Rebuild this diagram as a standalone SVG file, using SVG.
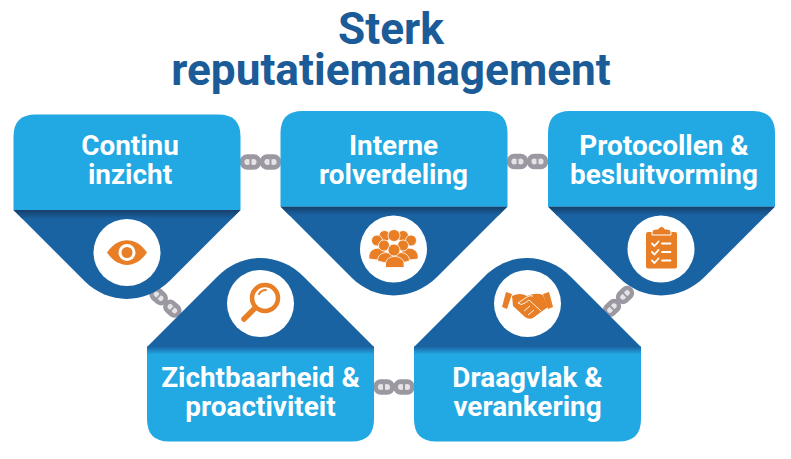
<svg xmlns="http://www.w3.org/2000/svg" width="791" height="459" viewBox="0 0 791 459">
<style>
text{font-family:Roboto,"Liberation Sans",sans-serif;font-weight:700;text-anchor:middle}
.title{fill:#1a5b98;font-size:44.200px}
.label{fill:#fff;font-size:27.900px}
.card{fill:#22a8e2}
.tip{fill:#1a63a3}
.disc{fill:#fff}
.ico{fill:#e87f27}
.link{fill:#e4e3e6;stroke:#9b98a2;stroke-width:4.800}
.stud{fill:#9b98a2}
</style>
<defs>
<linearGradient id="shD" x1="0" y1="0" x2="0" y2="1"><stop offset="0" stop-color="#163f68"/><stop offset="1" stop-color="#1a63a3"/></linearGradient>
<linearGradient id="shU" x1="0" y1="0" x2="0" y2="1"><stop offset="0" stop-color="#1a63a3"/><stop offset="1" stop-color="#22a8e2"/></linearGradient>
<g id="chain">
<rect class="link" x="-18.500" y="-5.300" width="17" height="10.600" rx="5.300"/>
<rect class="link" x="1.500" y="-5.300" width="17" height="10.600" rx="5.300"/>
<path class="stud" d="M-12.500-4H-7.500V-2.800H-9V2.800H-7.500V4H-12.500V2.800H-11V-2.800H-12.500ZM7.500-4H12.500V-2.800H11V2.800H12.500V4H7.500V2.800H9V-2.800H7.500Z"/>
</g>
<g id="down">
<path class="tip" d="M0 95.500H227L157 165.500C132 190.500 95 190.500 71 166.500Z"/>
<path d="M0 95.500H227L218 104.500H9Z" fill="url(#shD)"/>
<path class="card" d="M0 95.500V22Q0 0 22 0H205Q227 0 227 22V95.500Z"/>
</g>
<g id="up">
<path class="tip" d="M0 89H227L157 19C132 -6 95 -6 71 18Z"/>
<path class="card" d="M0 89V161Q0 183.500 22 183.500H205Q227 183.500 227 161V89Z"/>
<rect x="0" y="88.500" width="227" height="8" fill="url(#shU)"/>
</g>
</defs>

<text class="title" x="391" y="44">Sterk</text>
<text class="title" x="391" y="85">reputatiemanagement</text>

<g id="connectors">
<use href="#chain" transform="translate(260.500 162)"/>
<use href="#chain" transform="translate(527.500 161.500)"/>
<use href="#chain" transform="translate(394 387)"/>
<use href="#chain" transform="translate(165.500 302.500) rotate(42) scale(.92)"/>
<use href="#chain" transform="translate(618.500 301.500) rotate(-45) scale(.92)"/>
</g>

<g id="node-continu">
<use href="#down" transform="translate(13.500 114.500)"/>
<circle class="disc" cx="127" cy="252.500" r="33.500"/>
<path class="ico" d="M107 252.500C118 236 136 236 147 252.500C136 269 118 269 107 252.500Z"/>
<circle cx="127" cy="252.500" r="8.500" fill="#fff"/>
<circle class="ico" cx="127" cy="252.500" r="5.500"/>
<text class="label" x="130" y="155">Continu</text>
<text class="label" x="130" y="184">inzicht</text>
</g>

<g id="node-rolverdeling">
<use href="#down" transform="translate(280.500 111)"/>
<circle class="disc" cx="393.500" cy="249" r="33.500"/>
<g class="ico" stroke="#fff" stroke-width=".8">
<circle cx="384.500" cy="236" r="5.500"/><circle cx="403" cy="236" r="5.500"/>
<circle cx="394" cy="235.500" r="6"/>
<circle cx="377" cy="240.500" r="5.500"/><circle cx="411" cy="240.500" r="5.500"/>
<path d="M369 259C367 245 387 245 387 257V258L378 260Z"/>
<path d="M400 257C400 245 420 245 418 259L409 260Z"/>
<circle cx="384" cy="245.500" r="5.500"/><circle cx="403" cy="245.500" r="5.500"/>
<path d="M377.500 261C377.500 250 394 250 394 260V262L386 263Z"/>
<path d="M393 260C393 250 409.500 250 409.500 261L401 263Z"/>
<circle cx="394" cy="250" r="6"/>
<path d="M385.500 264C385.500 254 404 254 404 264V267.500H385.500Z"/>
</g>
<text class="label" x="393.500" y="154.500">Interne</text>
<text class="label" x="393.500" y="183.500">rolverdeling</text>
</g>

<g id="node-protocollen">
<use href="#down" transform="translate(548 111)"/>
<circle class="disc" cx="661" cy="249" r="33.500"/>
<rect class="ico" x="646" y="232" width="31" height="36.500" rx="2"/>
<path class="ico" d="M652 232Q652 229 656 229H658Q659 226.500 661.500 226.500Q664 226.500 665 229H667Q671 229 671 232V235H652Z" stroke="#fff" stroke-width="1"/>
<path d="M652 243.500L654.500 246L658.500 241.500M652 252L654.500 254.500L658.500 250M652 260.500L654.500 263L658.500 258.500M662 243.500H670.500M662 252H670.500M662 260.500H670.500" fill="none" stroke="#fff" stroke-width="1.800" stroke-linecap="round" stroke-linejoin="round"/>
<text class="label" x="664" y="154.500">Protocollen &amp;</text>
<text class="label" x="664" y="183.500">besluitvorming</text>
</g>

<g id="node-zichtbaarheid">
<use href="#up" transform="translate(147 258)"/>
<circle class="disc" cx="260.500" cy="303.500" r="33.500"/>
<path d="M254 309L244 319" fill="none" stroke="#e87f27" stroke-width="5.500" stroke-linecap="round"/>
<circle cx="265" cy="298" r="13" fill="#fff" stroke="#e87f27" stroke-width="4.500"/>
<path d="M259 294Q261 290 266 290" fill="none" stroke="#e87f27" stroke-width="2" stroke-linecap="round"/>
<text class="label" x="260.500" y="387">Zichtbaarheid &amp;</text>
<text class="label" x="260.500" y="416">proactiviteit</text>
</g>

<g id="node-draagvlak">
<use href="#up" transform="translate(414 258)"/>
<circle class="disc" cx="527.500" cy="303.500" r="33.500"/>
<path class="ico" d="M506 292L512 294L507 309L502 307ZM549 292L543 294L548 309L553 307Z"/>
<path class="ico" d="M512 296Q520 292 527 296Q536 292 543 295L548 307L541 312L533 318Q529 320 525 317L513 306Z"/>
<path d="M518 303L527 297Q530 295 533 296M518 303Q521 306 525 303L529 300L541 311M534 310L528 315M530 306L524 311" fill="none" stroke="#fff" stroke-width=".9"/>
<text class="label" x="527.500" y="387">Draagvlak &amp;</text>
<text class="label" x="527.500" y="416">verankering</text>
</g>
</svg>
